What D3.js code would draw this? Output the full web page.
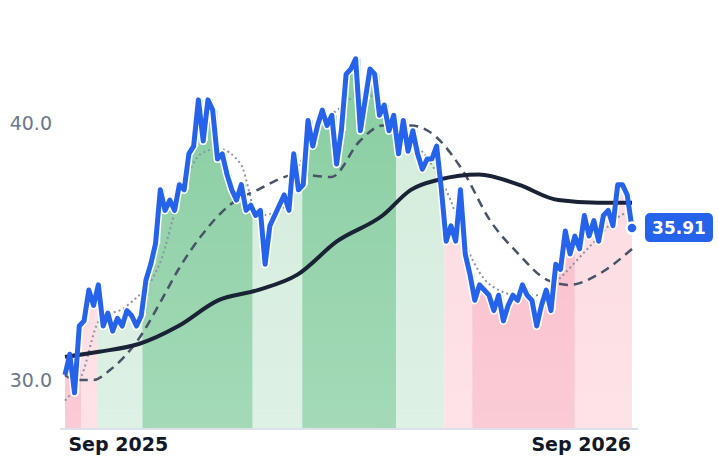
<!DOCTYPE html>
<html><head><meta charset="utf-8">
<script src="https://cdn.jsdelivr.net/npm/d3@7"></script>
<style>body{margin:0;background:#fff}svg{font-family:"DejaVu Sans",sans-serif}</style>
</head><body>
<svg id="c" width="718" height="464"></svg>
<script>
// price series, evenly spaced from startDate to endDate
var startDate = new Date(2025, 6, 21), endDate = new Date(2026, 9, 11);
var prices = [30.2,31.0,29.5,32.1,32.3,33.5,32.9,33.7,32.1,32.6,31.9,32.4,32.1,32.7,32.5,32.1,32.5,33.9,34.5,35.3,
  37.4,36.6,37.0,36.6,37.6,37.4,38.8,39.1,40.9,39.3,40.9,40.5,38.6,38.8,38.0,37.4,37.0,37.6,36.6,36.8,
  36.4,36.6,34.5,36.0,36.4,36.8,37.2,36.6,38.8,37.4,37.6,40.1,39.1,39.9,40.5,39.9,40.3,38.4,39.7,41.9,
  42.1,42.5,39.7,40.9,42.1,41.9,40.3,40.7,39.7,40.3,38.8,40.1,38.9,39.7,38.8,38.2,38.6,38.6,39.1,37.4,
  35.4,36.0,35.4,37.4,34.9,34.1,33.1,33.7,33.5,33.3,32.7,33.3,32.3,32.9,33.3,33.1,33.7,33.3,33.1,32.1,
  32.9,33.5,32.7,34.5,34.3,35.8,34.9,35.6,35.1,36.4,35.6,36.2,35.4,36.4,36.6,36.0,37.6,37.6,37.2,35.91];
// moving averages, sampled as [fraction of range, value]
var maLong = [[0,30.9],[0.06,31.1],[0.13,31.4],[0.2,32.1],[0.27,33.1],[0.34,33.5],[0.41,34.1],[0.48,35.4],[0.56,36.4],[0.61,37.4],[0.66,37.8],[0.73,38.0],[0.8,37.6],[0.87,37.0],[0.94,36.9],[1,36.9]];
var maMid = [[0,30.2],[0.02,30.0],[0.05,30.0],[0.08,30.4],[0.13,31.6],[0.17,33.1],[0.2,34.3],[0.24,35.6],[0.29,36.8],[0.34,37.4],[0.41,38.0],[0.47,37.9],[0.52,39.3],[0.56,39.9],[0.61,39.9],[0.64,39.7],[0.7,38.2],[0.75,36.2],[0.8,34.9],[0.85,33.9],[0.89,33.7],[0.94,34.1],[1,35.1]];
var maShort = [[0,29.2],[0.03,30.2],[0.06,32.3],[0.11,32.9],[0.17,34.7],[0.2,37.0],[0.24,38.8],[0.27,39.0],[0.31,38.4],[0.34,36.4],[0.38,36.6],[0.41,38.2],[0.45,39.9],[0.48,40.5],[0.53,41.2],[0.56,40.5],[0.59,39.7],[0.64,38.6],[0.68,37.0],[0.71,35.1],[0.75,33.7],[0.8,33.3],[0.84,33.3],[0.87,33.9],[0.93,35.3],[0.98,36.4],[1,36.6]];
// regime segments: [start, end, type]
var regimes = [
  ["2025-07-21","2025-08-03","bearStrong"],["2025-08-03","2025-08-16","bearWeak"],
  ["2025-08-16","2025-09-20","bullWeak"],["2025-09-20","2025-12-16","bullStrong"],
  ["2025-12-16","2026-01-24","bullWeak"],["2026-01-24","2026-04-08","bullStrong"],
  ["2026-04-08","2026-05-16","bullWeak"],["2026-05-16","2026-06-07","bearWeak"],
  ["2026-06-07","2026-08-27","bearStrong"],["2026-08-27","2026-10-11","bearWeak"]];
var regimeColors = {bullStrong:"#86cda0", bullWeak:"#d2ecdb", bearStrong:"#f9bac7", bearWeak:"#fcd9df"};
var yTicks = [30, 40];
var xTicks = [new Date(2025, 8, 1), new Date(2026, 8, 1)];

var svg = d3.select("#c");
var x = d3.scaleTime().domain([startDate, endDate]).range([65, 632]);
var y = d3.scaleLinear().domain([30, 40]).range([380, 123]);
var bottom = 428;
var span = endDate - startDate;
var pts = prices.map(function(v, i) { return {d: new Date(+startDate + span * i / (prices.length - 1)), v: v}; });
function maPts(a) { return a.map(function(p) { return {d: new Date(+startDate + span * p[0]), v: p[1]}; }); }

var defs = svg.append("defs");
var g = defs.append("linearGradient").attr("id", "fade").attr("x1", 0).attr("x2", 0).attr("y1", 0).attr("y2", 1);
g.append("stop").attr("offset", "0%").attr("stop-color", "#fff").attr("stop-opacity", 0);
g.append("stop").attr("offset", "100%").attr("stop-color", "#fff").attr("stop-opacity", 0.25);
defs.append("clipPath").attr("id", "under").append("path")
  .attr("d", d3.area().x(function(d) { return x(d.d); }).y0(bottom).y1(function(d) { return y(d.v); }).curve(d3.curveStepAfter)(pts));

var pd = d3.timeParse("%Y-%m-%d");
var fills = svg.append("g").attr("clip-path", "url(#under)");
fills.selectAll("rect").data(regimes).join("rect")
  .attr("x", function(d) { return x(pd(d[0])); })
  .attr("width", function(d) { return x(pd(d[1])) - x(pd(d[0])); })
  .attr("y", 0).attr("height", bottom)
  .attr("fill", function(d) { return regimeColors[d[2]]; });
fills.append("rect").attr("x", 65).attr("width", 567).attr("y", 40).attr("height", bottom - 40).attr("fill", "url(#fade)");

var line = d3.line().x(function(d) { return x(d.d); }).y(function(d) { return y(d.v); });
var smooth = d3.line().x(function(d) { return x(d.d); }).y(function(d) { return y(d.v); }).curve(d3.curveMonotoneX);

svg.append("path").attr("d", smooth(maPts(maShort))).attr("fill", "none").attr("stroke", "#8a93a3").attr("stroke-width", 2).attr("stroke-dasharray", "2,3");
svg.append("path").attr("d", smooth(maPts(maMid))).attr("fill", "none").attr("stroke", "#475366").attr("stroke-width", 2.5).attr("stroke-dasharray", "9,6");

svg.append("path").attr("d", line(pts)).attr("fill", "none").attr("stroke", "#fff").attr("stroke-width", 8).attr("stroke-linejoin", "round");
svg.append("path").attr("d", smooth(maPts(maLong))).attr("fill", "none").attr("stroke", "#1a2236").attr("stroke-width", 4);
svg.append("path").attr("d", line(pts)).attr("fill", "none").attr("stroke", "#2563eb").attr("stroke-width", 5).attr("stroke-linejoin", "round");

// axes
svg.append("line").attr("x1", 60).attr("x2", 638).attr("y1", bottom + 1).attr("y2", bottom + 1).attr("stroke", "#dde2ea").attr("stroke-width", 2);
svg.selectAll(".yt").data(yTicks).join("text")
  .attr("x", 52).attr("y", function(d) { return y(d) + 7; }).attr("text-anchor", "end")
  .attr("fill", "#6b778a").attr("font-size", 19).text(function(d) { return d.toFixed(1); });
svg.selectAll(".xt").data(xTicks).join("text")
  .attr("x", function(d) { return x(d); }).attr("y", 451).attr("text-anchor", "middle")
  .attr("fill", "#111827").attr("font-size", 19).attr("font-weight", "bold").text(d3.timeFormat("%b %Y"));

// last value marker
var last = pts[pts.length - 1];
svg.append("circle").attr("cx", x(last.d)).attr("cy", y(last.v)).attr("r", 5.5).attr("fill", "#2563eb").attr("stroke", "#fff").attr("stroke-width", 2.5);
svg.append("rect").attr("x", 645).attr("y", y(last.v) - 15).attr("width", 68).attr("height", 29).attr("rx", 5).attr("fill", "#2563eb");
svg.append("text").attr("x", 679).attr("y", y(last.v) + 6).attr("text-anchor", "middle").attr("fill", "#fff")
  .attr("font-size", 17).attr("font-weight", "bold").text(last.v.toFixed(2));
</script>
</body></html>
